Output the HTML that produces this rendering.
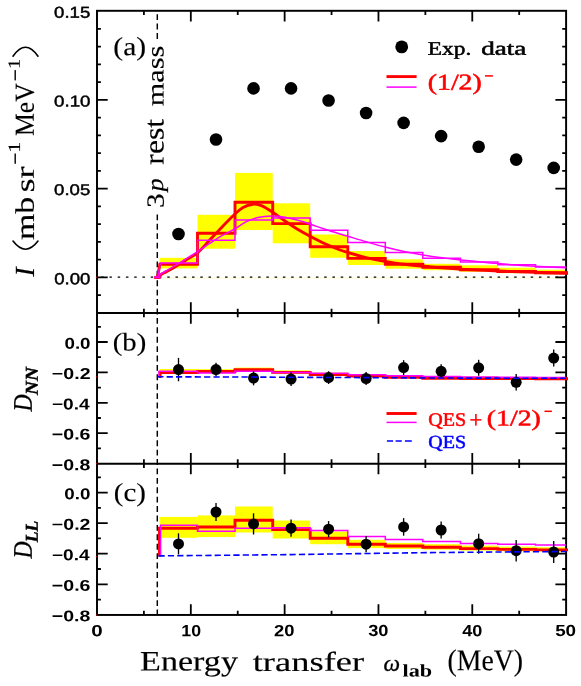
<!DOCTYPE html>
<html>
<head>
<meta charset="utf-8">
<title>Energy transfer spectra</title>
<style>
html,body{margin:0;padding:0;background:#ffffff;}
body{width:581px;height:686px;overflow:hidden;font-family:"Liberation Sans",sans-serif;}
svg{display:block;will-change:transform;}
text{white-space:pre;text-rendering:geometricPrecision;}
</style>
</head>
<body>
<svg width="581" height="686" viewBox="0 0 581 686">
<rect x="0" y="0" width="581" height="686" fill="#ffffff"/>
<g shape-rendering="auto">
<rect x="159.5" y="257.8" width="38" height="10.6" fill="#ffff00"/>
<rect x="197.5" y="214.8" width="37.5" height="33.9" fill="#ffff00"/>
<rect x="235" y="172.9" width="37.7" height="57.1" fill="#ffff00"/>
<rect x="272.7" y="203.3" width="37.5" height="40" fill="#ffff00"/>
<rect x="310.2" y="234.5" width="37.6" height="23.3" fill="#ffff00"/>
<rect x="347.8" y="251" width="37.5" height="14" fill="#ffff00"/>
<rect x="385.3" y="259.3" width="37.5" height="9.4" fill="#ffff00"/>
<rect x="422.8" y="263.8" width="37.6" height="6.4" fill="#ffff00"/>
<rect x="460.4" y="265.3" width="37.5" height="6.5" fill="#ffff00"/>
<rect x="497.9" y="267.7" width="37.6" height="5.5" fill="#ffff00"/>
<rect x="535.5" y="269.7" width="30.6" height="4.5" fill="#ffff00"/>
<rect x="159.5" y="369" width="38" height="4" fill="#ffff00"/>
<rect x="197.5" y="369.2" width="37.5" height="3.8" fill="#ffff00"/>
<rect x="235" y="367.6" width="37.7" height="3.9" fill="#ffff00"/>
<rect x="272.7" y="370.4" width="37.5" height="3.1" fill="#ffff00"/>
<rect x="310.2" y="372.6" width="37.6" height="2.9" fill="#ffff00"/>
<rect x="347.8" y="374.3" width="37.5" height="2.5" fill="#ffff00"/>
<rect x="385.3" y="375.4" width="37.5" height="2.6" fill="#ffff00"/>
<rect x="422.8" y="376" width="37.6" height="2.8" fill="#ffff00"/>
<rect x="460.4" y="376.6" width="37.5" height="2.4" fill="#ffff00"/>
<rect x="497.9" y="377" width="37.6" height="2.4" fill="#ffff00"/>
<rect x="535.5" y="377.2" width="30.6" height="2.4" fill="#ffff00"/>
<rect x="159.5" y="516.9" width="38" height="20.9" fill="#ffff00"/>
<rect x="197.5" y="515.4" width="37.5" height="21.7" fill="#ffff00"/>
<rect x="235" y="506.5" width="37.7" height="26" fill="#ffff00"/>
<rect x="272.7" y="520.5" width="37.5" height="18" fill="#ffff00"/>
<rect x="310.2" y="531.5" width="37.6" height="12.7" fill="#ffff00"/>
<rect x="347.8" y="539.8" width="37.5" height="8.3" fill="#ffff00"/>
<rect x="385.3" y="542.9" width="37.5" height="6" fill="#ffff00"/>
<rect x="422.8" y="544.2" width="37.6" height="5.4" fill="#ffff00"/>
<rect x="460.4" y="545.6" width="37.5" height="5" fill="#ffff00"/>
<rect x="497.9" y="546.6" width="37.6" height="4.6" fill="#ffff00"/>
<rect x="535.5" y="547.2" width="30.6" height="4.4" fill="#ffff00"/>
<line x1="160" y1="278" x2="566.1" y2="278" stroke="#ffff00" stroke-width="0.6" opacity="0.35"/>
</g>
<g stroke="#000" fill="none" stroke-linecap="butt">
<rect x="97" y="10.8" width="469.1" height="604.15" stroke-width="1.95"/>
<line x1="97" y1="312.95" x2="566.1" y2="312.95" stroke-width="1.95"/>
<line x1="97" y1="463.65" x2="566.1" y2="463.65" stroke-width="1.95"/>
<path d="M143.91,10.8L143.91,15.1 M143.91,308.65L143.91,317.25 M143.91,459.35L143.91,467.95 M143.91,610.65L143.91,614.95 M190.82,10.8L190.82,21.5 M190.82,302.25L190.82,323.65 M190.82,452.95L190.82,474.35 M190.82,604.25L190.82,614.95 M237.73,10.8L237.73,15.1 M237.73,308.65L237.73,317.25 M237.73,459.35L237.73,467.95 M237.73,610.65L237.73,614.95 M284.64,10.8L284.64,21.5 M284.64,302.25L284.64,323.65 M284.64,452.95L284.64,474.35 M284.64,604.25L284.64,614.95 M331.55,10.8L331.55,15.1 M331.55,308.65L331.55,317.25 M331.55,459.35L331.55,467.95 M331.55,610.65L331.55,614.95 M378.46,10.8L378.46,21.5 M378.46,302.25L378.46,323.65 M378.46,452.95L378.46,474.35 M378.46,604.25L378.46,614.95 M425.37,10.8L425.37,15.1 M425.37,308.65L425.37,317.25 M425.37,459.35L425.37,467.95 M425.37,610.65L425.37,614.95 M472.28,10.8L472.28,21.5 M472.28,302.25L472.28,323.65 M472.28,452.95L472.28,474.35 M472.28,604.25L472.28,614.95 M519.19,10.8L519.19,15.1 M519.19,308.65L519.19,317.25 M519.19,459.35L519.19,467.95 M519.19,610.65L519.19,614.95 M97,295.05L100.9,295.05 M562.2,295.05L566.1,295.05 M97,277.3L107.7,277.3 M555.4,277.3L566.1,277.3 M97,259.56L100.9,259.56 M562.2,259.56L566.1,259.56 M97,241.81L100.9,241.81 M562.2,241.81L566.1,241.81 M97,224.06L100.9,224.06 M562.2,224.06L566.1,224.06 M97,206.32L100.9,206.32 M562.2,206.32L566.1,206.32 M97,188.57L107.7,188.57 M555.4,188.57L566.1,188.57 M97,170.83L100.9,170.83 M562.2,170.83L566.1,170.83 M97,153.08L100.9,153.08 M562.2,153.08L566.1,153.08 M97,135.34L100.9,135.34 M562.2,135.34L566.1,135.34 M97,117.6L100.9,117.6 M562.2,117.6L566.1,117.6 M97,99.85L107.7,99.85 M555.4,99.85L566.1,99.85 M97,82.11L100.9,82.11 M562.2,82.11L566.1,82.11 M97,64.36L100.9,64.36 M562.2,64.36L566.1,64.36 M97,46.62L100.9,46.62 M562.2,46.62L566.1,46.62 M97,28.87L100.9,28.87 M562.2,28.87L566.1,28.87 M97,448.4L100.9,448.4 M562.2,448.4L566.1,448.4 M97,433.2L107.7,433.2 M555.4,433.2L566.1,433.2 M97,418L100.9,418 M562.2,418L566.1,418 M97,402.8L107.7,402.8 M555.4,402.8L566.1,402.8 M97,387.6L100.9,387.6 M562.2,387.6L566.1,387.6 M97,372.4L107.7,372.4 M555.4,372.4L566.1,372.4 M97,357.2L100.9,357.2 M562.2,357.2L566.1,357.2 M97,342L107.7,342 M555.4,342L566.1,342 M97,326.8L100.9,326.8 M562.2,326.8L566.1,326.8 M97,599.56L100.9,599.56 M562.2,599.56L566.1,599.56 M97,584.28L107.7,584.28 M555.4,584.28L566.1,584.28 M97,569L100.9,569 M562.2,569L566.1,569 M97,553.72L107.7,553.72 M555.4,553.72L566.1,553.72 M97,538.44L100.9,538.44 M562.2,538.44L566.1,538.44 M97,523.16L107.7,523.16 M555.4,523.16L566.1,523.16 M97,507.88L100.9,507.88 M562.2,507.88L566.1,507.88 M97,492.6L107.7,492.6 M555.4,492.6L566.1,492.6 M97,477.32L100.9,477.32 M562.2,477.32L566.1,477.32" stroke-width="1.8"/>
</g>
<line x1="97" y1="277.2" x2="566.1" y2="277.2" stroke="#000" stroke-width="1.3" stroke-dasharray="2.5 5.76" stroke-dashoffset="4.1"/>
<g stroke="#000" stroke-width="1.45" stroke-dasharray="5.9 3.51">
<line x1="157.3" y1="14.2" x2="157.3" y2="40"/>
<line x1="157.3" y1="214.4" x2="157.3" y2="614.95"/>
</g>
<g fill="none" stroke-linejoin="miter" stroke-linecap="butt">
<path d="M157.4,277.6 L159.9,264.2 L197.5,264.2 L197.5,233.2 L235,233.2 L235,202.3 L272.7,202.3 L272.7,223.6 L310.2,223.6 L310.2,246.7 L347.8,246.7 L347.8,258.4 L385.3,258.4 L385.3,264.2 L422.8,264.2 L422.8,267.2 L460.4,267.2 L460.4,269.8 L497.9,269.8 L497.9,271.5 L535.5,271.5 L535.5,272.8 L568,272.8" stroke="#ff0000" stroke-width="2.9"/>
<path d="M157.3,277.4 C158,276.87 160.05,275.12 161.5,274.2 C162.95,273.28 164.5,272.7 166,271.9 C167.5,271.1 168.5,270.55 170.5,269.4 C172.5,268.25 175.42,266.57 178,265 C180.58,263.43 182.75,262.02 186,260 C189.25,257.98 193.63,256.13 197.5,252.9 C201.37,249.67 205.18,244.85 209.2,240.6 C213.22,236.35 217.38,231.75 221.6,227.4 C225.82,223.05 230.93,217.82 234.5,214.5 C238.07,211.18 239.92,209.22 243,207.5 C246.08,205.78 249.83,204.48 253,204.2 C256.17,203.92 258.67,204.42 262,205.8 C265.33,207.18 269.17,209.97 273,212.5 C276.83,215.03 280.83,218.17 285,221 C289.17,223.83 293.75,226.92 298,229.5 C302.25,232.08 306,234.12 310.5,236.5 C315,238.88 320.08,241.55 325,243.8 C329.92,246.05 336.17,248.53 340,250 C343.83,251.47 343.67,251.33 348,252.6 C352.33,253.87 359.67,256.1 366,257.6 C372.33,259.1 379.67,260.5 386,261.6 C392.33,262.7 397.83,263.42 404,264.2 C410.17,264.98 416.67,265.68 423,266.3 C429.33,266.92 435.67,267.42 442,267.9 C448.33,268.38 451.67,268.68 461,269.2 C470.33,269.72 485.67,270.47 498,271 C510.33,271.53 523.33,272.03 535,272.4 C546.67,272.77 562.5,273.07 568,273.2" stroke="#ff0000" stroke-width="2.9"/>
<path d="M157.9,277.4 L160.4,262.9 L197.5,262.9 L197.5,240.3 L235,240.3 L235,220 L272.7,220 L272.7,218 L310.2,218 L310.2,230.2 L347.8,230.2 L347.8,242.6 L385.3,242.6 L385.3,252.6 L422.8,252.6 L422.8,258.3 L460.4,258.3 L460.4,261.9 L497.9,261.9 L497.9,264.8 L535.5,264.8 L535.5,267 L566.1,267" stroke="#ff00ff" stroke-width="1.5"/>
<path d="M157.3,277.3 C158,276.68 160.05,274.65 161.5,273.6 C162.95,272.55 164.5,271.87 166,271 C167.5,270.13 168.5,269.58 170.5,268.4 C172.5,267.22 175.42,265.5 178,263.9 C180.58,262.3 182.75,260.85 186,258.8 C189.25,256.75 193.63,254.12 197.5,251.6 C201.37,249.08 205.18,246.32 209.2,243.7 C213.22,241.08 217.38,238.35 221.6,235.9 C225.82,233.45 230.43,231.35 234.5,229 C238.57,226.65 242.08,223.72 246,221.8 C249.92,219.88 253.67,218.47 258,217.5 C262.33,216.53 267.5,216.05 272,216 C276.5,215.95 280.67,216.48 285,217.2 C289.33,217.92 293.75,219.13 298,220.3 C302.25,221.47 306,222.7 310.5,224.2 C315,225.7 320.08,227.67 325,229.3 C329.92,230.93 336.17,232.83 340,234 C343.83,235.17 343.67,235.02 348,236.3 C352.33,237.58 359.67,239.87 366,241.7 C372.33,243.53 379.67,245.67 386,247.3 C392.33,248.93 397.83,250.23 404,251.5 C410.17,252.77 416.67,253.87 423,254.9 C429.33,255.93 435.67,256.85 442,257.7 C448.33,258.55 451.67,259.02 461,260 C470.33,260.98 485.67,262.55 498,263.6 C510.33,264.65 523.6,265.6 535,266.3 C546.4,267 561.17,267.55 566.4,267.8" stroke="#ff00ff" stroke-width="1.5"/>
<path d="M154.2,277.5 L160.6,277.5" stroke="#ff0000" stroke-width="2.9"/>
<path d="M154.4,277.3 L160.6,277.3" stroke="#ff00ff" stroke-width="2.1"/>
<path d="M160.1,378 L160.1,372.6 L197.5,372.6 L197.5,371.5 L235,371.5 L235,369.7 L272.7,369.7 L272.7,372.4 L310.2,372.4 L310.2,374.6 L347.8,374.6 L347.8,376 L385.3,376 L385.3,377.4 L422.8,377.4 L422.8,378.2 L460.4,378.2 L460.4,378.5 L497.9,378.5 L497.9,378.6 L535.5,378.6 L535.5,378.7 L568,378.7" stroke="#ff0000" stroke-width="2.9"/>
<path d="M159,377.2 L159,371.3 L197.5,371.3 L197.5,372.9 L235,372.9 L235,371.2 L272.7,371.2 L272.7,372.6 L310.2,372.6 L310.2,373.2 L347.8,373.2 L347.8,374.7 L385.3,374.7 L385.3,375.8 L422.8,375.8 L422.8,376.4 L460.4,376.4 L460.4,376.9 L497.9,376.9 L497.9,377.2 L535.5,377.2 L535.5,377.4 L566.1,377.4" stroke="#ff00ff" stroke-width="1.5"/>
<path d="M159.5,556.6 L159.5,528.2 L197.5,528.2 L197.5,527 L235,527 L235,520.2 L272.7,520.2 L272.7,529.6 L310.2,529.6 L310.2,538.3 L347.8,538.3 L347.8,544.2 L385.3,544.2 L385.3,546 L422.8,546 L422.8,547.3 L460.4,547.3 L460.4,548.6 L497.9,548.6 L497.9,549.4 L535.5,549.4 L535.5,549.9 L568,549.9" stroke="#ff0000" stroke-width="2.9"/>
<path d="M160.6,556 L160.6,525.3 L197.5,525.3 L197.5,531.3 L235,531.3 L235,528.2 L272.7,528.2 L272.7,527.8 L310.2,527.8 L310.2,530.5 L347.8,530.5 L347.8,536.5 L385.3,536.5 L385.3,539.6 L422.8,539.6 L422.8,541.6 L460.4,541.6 L460.4,543.4 L497.9,543.4 L497.9,544.2 L535.5,544.2 L535.5,545 L566.1,545" stroke="#ff00ff" stroke-width="1.5"/>
</g>
<g fill="#000" stroke="#000" stroke-width="1.35">
<circle cx="178.5" cy="234" r="6.3" stroke="none"/>
<circle cx="216.02" cy="139.5" r="6.3" stroke="none"/>
<circle cx="253.54" cy="88.4" r="6.3" stroke="none"/>
<circle cx="291.06" cy="88.4" r="6.3" stroke="none"/>
<circle cx="328.58" cy="100.5" r="6.3" stroke="none"/>
<circle cx="366.1" cy="113" r="6.3" stroke="none"/>
<circle cx="403.62" cy="122.9" r="6.3" stroke="none"/>
<circle cx="441.14" cy="136.1" r="6.3" stroke="none"/>
<circle cx="478.66" cy="146.7" r="6.3" stroke="none"/>
<circle cx="516.18" cy="159.6" r="6.3" stroke="none"/>
<circle cx="553.7" cy="167.9" r="6.3" stroke="none"/>
<line x1="178.5" y1="357.9" x2="178.5" y2="381.3"/>
<circle cx="178.5" cy="369.6" r="5.5" stroke="none"/>
<line x1="216.02" y1="362.8" x2="216.02" y2="376.4"/>
<circle cx="216.02" cy="369.6" r="5.5" stroke="none"/>
<line x1="253.54" y1="370.9" x2="253.54" y2="385.3"/>
<circle cx="253.54" cy="378.1" r="5.5" stroke="none"/>
<line x1="291.06" y1="372.3" x2="291.06" y2="385.9"/>
<circle cx="291.06" cy="379.1" r="5.5" stroke="none"/>
<line x1="328.58" y1="371.2" x2="328.58" y2="384"/>
<circle cx="328.58" cy="377.6" r="5.5" stroke="none"/>
<line x1="366.1" y1="372.1" x2="366.1" y2="384.9"/>
<circle cx="366.1" cy="378.5" r="5.5" stroke="none"/>
<line x1="403.62" y1="360.2" x2="403.62" y2="375"/>
<circle cx="403.62" cy="367.6" r="5.5" stroke="none"/>
<line x1="441.14" y1="364.3" x2="441.14" y2="378.3"/>
<circle cx="441.14" cy="371.3" r="5.5" stroke="none"/>
<line x1="478.66" y1="359.8" x2="478.66" y2="375.8"/>
<circle cx="478.66" cy="367.8" r="5.5" stroke="none"/>
<line x1="516.18" y1="374" x2="516.18" y2="390.6"/>
<circle cx="516.18" cy="382.3" r="5.5" stroke="none"/>
<line x1="553.7" y1="349.6" x2="553.7" y2="366.6"/>
<circle cx="553.7" cy="358.1" r="5.5" stroke="none"/>
<line x1="178.5" y1="533.3" x2="178.5" y2="554.5"/>
<circle cx="178.5" cy="543.9" r="5.5" stroke="none"/>
<line x1="216.02" y1="503" x2="216.02" y2="521"/>
<circle cx="216.02" cy="512" r="5.5" stroke="none"/>
<line x1="253.54" y1="513.3" x2="253.54" y2="534.5"/>
<circle cx="253.54" cy="523.9" r="5.5" stroke="none"/>
<line x1="291.06" y1="519.6" x2="291.06" y2="536.8"/>
<circle cx="291.06" cy="528.2" r="5.5" stroke="none"/>
<line x1="328.58" y1="521.1" x2="328.58" y2="537.3"/>
<circle cx="328.58" cy="529.2" r="5.5" stroke="none"/>
<line x1="366.1" y1="536.1" x2="366.1" y2="552.3"/>
<circle cx="366.1" cy="544.2" r="5.5" stroke="none"/>
<line x1="403.62" y1="518.1" x2="403.62" y2="535.7"/>
<circle cx="403.62" cy="526.9" r="5.5" stroke="none"/>
<line x1="441.14" y1="521.5" x2="441.14" y2="538.5"/>
<circle cx="441.14" cy="530" r="5.5" stroke="none"/>
<line x1="478.66" y1="533.7" x2="478.66" y2="553.7"/>
<circle cx="478.66" cy="543.7" r="5.5" stroke="none"/>
<line x1="516.18" y1="540" x2="516.18" y2="561.4"/>
<circle cx="516.18" cy="550.7" r="5.5" stroke="none"/>
<line x1="553.7" y1="541" x2="553.7" y2="563"/>
<circle cx="553.7" cy="552" r="5.5" stroke="none"/>
<circle cx="401.7" cy="46.9" r="6.4" stroke="none"/>
</g>
<g fill="none" stroke="#0000ff" stroke-width="1.6" stroke-dasharray="6.2 3.16">
<path d="M157.3,376.8 L260,377.1 L360,377.6 L460,378.1 L566.1,378.3"/>
<path d="M158.5,555.9 L220,555.3 L290,554.6 L360,553.6 L420,552.7 L500,552 L566.4,551.5"/>
</g>
<line x1="386.5" y1="76.6" x2="416.6" y2="76.6" stroke="#ff0000" stroke-width="2.9"/>
<line x1="386.5" y1="87.1" x2="416.6" y2="87.1" stroke="#ff00ff" stroke-width="1.5"/>
<line x1="386.5" y1="413.5" x2="416.6" y2="413.5" stroke="#ff0000" stroke-width="2.9"/>
<line x1="386.5" y1="422.4" x2="416.6" y2="422.4" stroke="#ff00ff" stroke-width="1.5"/>
<path d="M386.9,441 h6.2 M395.6,441 h6.2 M404.9,441 h6.9" stroke="#0000ff" stroke-width="1.6" fill="none"/>
<rect x="95.9" y="276.6" width="1" height="1.2" fill="#ff0000" opacity="0.8"/>
<rect x="95.9" y="376.3" width="1" height="1.2" fill="#ff0000" opacity="0.8"/>
<rect x="95.9" y="463.05" width="1" height="1.2" fill="#ff0000" opacity="0.8"/>
<rect x="95.9" y="556" width="1" height="1.2" fill="#ff0000" opacity="0.8"/>
<rect x="95.9" y="614.35" width="1" height="1.2" fill="#ff0000" opacity="0.8"/>
<path d="M13,241.1 Q25.5,257.4 38,241.1" fill="none" stroke="#000" stroke-width="1.6" stroke-linecap="round"/>
<path d="M13,56.2 Q25.5,38.2 38,56.2" fill="none" stroke="#000" stroke-width="1.6" stroke-linecap="round"/>
<rect x="485" y="75.15" width="7.9" height="1.5" fill="#ff0000"/>
<rect x="544.5" y="410.55" width="7.4" height="1.5" fill="#ff0000"/>
<rect x="14.5" y="153.5" width="1.4" height="10.3" fill="#000"/>
<rect x="14.5" y="70.1" width="1.4" height="10.3" fill="#000"/>
<text id="ya0" fill="#000" style="font-family:'Liberation Sans', sans-serif;font-size:15.8px;" stroke="#000" stroke-width="0.45" textLength="36.16" lengthAdjust="spacingAndGlyphs" transform="translate(54.07,17.86) rotate(-0.05)">0.15</text>
<text id="ya1" fill="#000" style="font-family:'Liberation Sans', sans-serif;font-size:15.58px;" stroke="#000" stroke-width="0.45" textLength="36.47" lengthAdjust="spacingAndGlyphs" transform="translate(54.05,106.59) rotate(-0.05)">0.10</text>
<text id="ya2" fill="#000" style="font-family:'Liberation Sans', sans-serif;font-size:15.42px;" stroke="#000" stroke-width="0.45" textLength="36.19" lengthAdjust="spacingAndGlyphs" transform="translate(54.05,195.06) rotate(-0.05)">0.05</text>
<text id="ya3" fill="#000" style="font-family:'Liberation Sans', sans-serif;font-size:16.11px;" stroke="#000" stroke-width="0.45" textLength="36.24" lengthAdjust="spacingAndGlyphs" transform="translate(54.16,284.22) rotate(-0.05)">0.00</text>
<text id="yb0" fill="#000" style="font-family:'Liberation Sans', sans-serif;font-size:15.65px;font-weight:bold;" textLength="26.12" lengthAdjust="spacingAndGlyphs" transform="translate(64.44,348.74) rotate(-0.05)">0.0</text>
<text id="yb1" fill="#000" style="font-family:'Liberation Sans', sans-serif;font-size:15.75px;font-weight:bold;" textLength="38.73" lengthAdjust="spacingAndGlyphs" transform="translate(51.81,379.03) rotate(-0.05)">−0.2</text>
<text id="yb2" fill="#000" style="font-family:'Liberation Sans', sans-serif;font-size:15.77px;font-weight:bold;" textLength="37.85" lengthAdjust="spacingAndGlyphs" transform="translate(51.91,409.46) rotate(-0.05)">−0.4</text>
<text id="yb3" fill="#000" style="font-family:'Liberation Sans', sans-serif;font-size:15.51px;font-weight:bold;" textLength="38.66" lengthAdjust="spacingAndGlyphs" transform="translate(51.82,439.6) rotate(-0.05)">−0.6</text>
<text id="yb4" fill="#000" style="font-family:'Liberation Sans', sans-serif;font-size:15.67px;font-weight:bold;" textLength="38.61" lengthAdjust="spacingAndGlyphs" transform="translate(51.83,470.35) rotate(-0.05)">−0.8</text>
<text id="yc0" fill="#000" style="font-family:'Liberation Sans', sans-serif;font-size:15.67px;font-weight:bold;" textLength="26.16" lengthAdjust="spacingAndGlyphs" transform="translate(64.33,499.25) rotate(-0.05)">0.0</text>
<text id="yc1" fill="#000" style="font-family:'Liberation Sans', sans-serif;font-size:15.76px;font-weight:bold;" textLength="38.55" lengthAdjust="spacingAndGlyphs" transform="translate(51.87,529.86) rotate(-0.05)">−0.2</text>
<text id="yc2" fill="#000" style="font-family:'Liberation Sans', sans-serif;font-size:15.77px;font-weight:bold;" textLength="37.85" lengthAdjust="spacingAndGlyphs" transform="translate(51.91,560.38) rotate(-0.05)">−0.4</text>
<text id="yc3" fill="#000" style="font-family:'Liberation Sans', sans-serif;font-size:15.51px;font-weight:bold;" textLength="38.66" lengthAdjust="spacingAndGlyphs" transform="translate(51.82,590.78) rotate(-0.05)">−0.6</text>
<text id="yc4" fill="#000" style="font-family:'Liberation Sans', sans-serif;font-size:15.35px;font-weight:bold;" textLength="38.58" lengthAdjust="spacingAndGlyphs" transform="translate(51.82,621.34) rotate(-0.05)">−0.8</text>
<text id="x0" fill="#000" style="font-family:'Liberation Sans', sans-serif;font-size:16.21px;font-weight:bold;" textLength="11.48" lengthAdjust="spacingAndGlyphs" transform="translate(91.28,636.15) rotate(-0.05)">0</text>
<text id="x10" fill="#000" style="font-family:'Liberation Sans', sans-serif;font-size:16.18px;font-weight:bold;" textLength="19.77" lengthAdjust="spacingAndGlyphs" transform="translate(181.37,636.23) rotate(-0.05)">10</text>
<text id="x20" fill="#000" style="font-family:'Liberation Sans', sans-serif;font-size:16.26px;font-weight:bold;" textLength="20.42" lengthAdjust="spacingAndGlyphs" transform="translate(274.1,636.13) rotate(-0.05)">20</text>
<text id="x30" fill="#000" style="font-family:'Liberation Sans', sans-serif;font-size:16.04px;font-weight:bold;" textLength="20.34" lengthAdjust="spacingAndGlyphs" transform="translate(368.17,636.12) rotate(-0.05)">30</text>
<text id="x40" fill="#000" style="font-family:'Liberation Sans', sans-serif;font-size:16.18px;font-weight:bold;" textLength="20.18" lengthAdjust="spacingAndGlyphs" transform="translate(462.17,636.22) rotate(-0.05)">40</text>
<text id="x50" fill="#000" style="font-family:'Liberation Sans', sans-serif;font-size:16.04px;font-weight:bold;" textLength="21" lengthAdjust="spacingAndGlyphs" transform="translate(555.13,636.09) rotate(-0.05)">50</text>
<text id="pa" fill="#000" style="font-family:'Liberation Serif', serif;font-size:26.11px;" stroke="#000" stroke-width="0.15" textLength="32.81" lengthAdjust="spacingAndGlyphs" transform="translate(113.36,55.14) rotate(-0.05)">(a)</text>
<text id="pb" fill="#000" style="font-family:'Liberation Serif', serif;font-size:25.36px;" stroke="#000" stroke-width="0.15" textLength="33.48" lengthAdjust="spacingAndGlyphs" transform="translate(112.73,350.59) rotate(-0.05)">(b)</text>
<text id="pc" fill="#000" style="font-family:'Liberation Serif', serif;font-size:26.03px;" stroke="#000" stroke-width="0.15" textLength="32.18" lengthAdjust="spacingAndGlyphs" transform="translate(113.82,501.03) rotate(-0.05)">(c)</text>
<text id="exp" fill="#000" style="font-family:'Liberation Serif', serif;font-size:19.24px;" stroke="#000" stroke-width="0.5" textLength="43.41" lengthAdjust="spacingAndGlyphs" transform="translate(427.82,54.7) rotate(-0.05)">Exp.</text>
<text id="data" fill="#000" style="font-family:'Liberation Serif', serif;font-size:19.12px;" stroke="#000" stroke-width="0.5" textLength="45.14" lengthAdjust="spacingAndGlyphs" transform="translate(481.25,54.85) rotate(-0.05)">data</text>
<text id="half1" fill="#ff0000" style="font-family:'Liberation Serif', serif;font-size:22.7px;" stroke="#ff0000" stroke-width="0.5" textLength="54.05" lengthAdjust="spacingAndGlyphs" transform="translate(427.73,89.65) rotate(-0.05)">(1/2)</text>
<text id="qes1" fill="#ff0000" style="font-family:'Liberation Serif', serif;font-size:19.01px;" stroke="#ff0000" stroke-width="0.5" textLength="37.88" lengthAdjust="spacingAndGlyphs" transform="translate(428.35,425.67) rotate(-0.05)">QES</text>
<text id="plus" fill="#ff0000" style="font-family:'Liberation Serif', serif;font-size:23.36px;" stroke="#ff0000" stroke-width="0.5" textLength="12.71" lengthAdjust="spacingAndGlyphs" transform="translate(469.49,427.59) rotate(-0.05)">+</text>
<text id="half2" fill="#ff0000" style="font-family:'Liberation Serif', serif;font-size:22.5px;" stroke="#ff0000" stroke-width="0.5" textLength="54.17" lengthAdjust="spacingAndGlyphs" transform="translate(486.71,425.54) rotate(-0.05)">(1/2)</text>
<text id="qes2" fill="#0000ff" style="font-family:'Liberation Serif', serif;font-size:18.32px;" stroke="#0000ff" stroke-width="0.5" textLength="37.83" lengthAdjust="spacingAndGlyphs" transform="translate(428.33,448.02) rotate(-0.05)">QES</text>
<text id="mass" fill="#000" style="font-family:'Liberation Serif', serif;font-size:24.34px;" stroke="#000" stroke-width="0.15" textLength="60.48" lengthAdjust="spacingAndGlyphs" transform="translate(163.53,106.29) rotate(-90.05)">mass</text>
<text id="rest" fill="#000" style="font-family:'Liberation Serif', serif;font-size:28.23px;" stroke="#000" stroke-width="0.15" textLength="45.8" lengthAdjust="spacingAndGlyphs" transform="translate(163.54,164.66) rotate(-90.05)">rest</text>
<text id="p" fill="#000" style="font-family:'Liberation Serif', serif;font-size:23.7px;font-style:italic;" stroke="#000" stroke-width="0.15" textLength="12.88" lengthAdjust="spacingAndGlyphs" transform="translate(162.99,191.31) rotate(-90.05)">p</text>
<text id="three" fill="#000" style="font-family:'Liberation Serif', serif;font-size:24.82px;" stroke="#000" stroke-width="0.15" textLength="14.58" lengthAdjust="spacingAndGlyphs" transform="translate(163.73,208.09) rotate(-90.05)">3</text>
<text id="yI" fill="#000" style="font-family:'Liberation Serif', serif;font-size:27.6px;font-style:italic;" stroke="#000" stroke-width="0.15" textLength="9.54" lengthAdjust="spacingAndGlyphs" transform="translate(34.03,276.83) rotate(-90.05)">I</text>
<text id="ymb" fill="#000" style="font-family:'Liberation Serif', serif;font-size:26.66px;" stroke="#000" stroke-width="0.15" textLength="43.38" lengthAdjust="spacingAndGlyphs" transform="translate(33.88,240.11) rotate(-90.05)">mb</text>
<text id="ysr" fill="#000" style="font-family:'Liberation Serif', serif;font-size:26.55px;" stroke="#000" stroke-width="0.15" textLength="26.13" lengthAdjust="spacingAndGlyphs" transform="translate(33.88,192.57) rotate(-90.05)">sr</text>
<text id="ys1" fill="#000" style="font-family:'Liberation Serif', serif;font-size:17.24px;" stroke="#000" stroke-width="0.15" textLength="10.99" lengthAdjust="spacingAndGlyphs" transform="translate(20.03,152.71) rotate(-90.05)">1</text>
<text id="yMeV" fill="#000" style="font-family:'Liberation Serif', serif;font-size:27.47px;" stroke="#000" stroke-width="0.15" textLength="52.68" lengthAdjust="spacingAndGlyphs" transform="translate(33.87,135.95) rotate(-90.05)">MeV</text>
<text id="ys2" fill="#000" style="font-family:'Liberation Serif', serif;font-size:17.06px;" stroke="#000" stroke-width="0.15" textLength="10.14" lengthAdjust="spacingAndGlyphs" transform="translate(19.87,68.96) rotate(-90.05)">1</text>
<text id="D1" fill="#000" style="font-family:'Liberation Serif', serif;font-size:26.87px;font-style:italic;" stroke="#000" stroke-width="0.3" textLength="17.16" lengthAdjust="spacingAndGlyphs" transform="translate(31.71,411.48) rotate(-90.05)">D</text>
<text id="NN" fill="#000" style="font-family:'Liberation Serif', serif;font-size:18.1px;font-weight:bold;font-style:italic;" stroke="#000" stroke-width="0.4" textLength="27.9" lengthAdjust="spacingAndGlyphs" transform="translate(37.7,394.89) rotate(-90.05)">NN</text>
<text id="D2" fill="#000" style="font-family:'Liberation Serif', serif;font-size:26.87px;font-style:italic;" stroke="#000" stroke-width="0.3" textLength="17.16" lengthAdjust="spacingAndGlyphs" transform="translate(31.71,558.48) rotate(-90.05)">D</text>
<text id="LL" fill="#000" style="font-family:'Liberation Serif', serif;font-size:18.13px;font-weight:bold;font-style:italic;" stroke="#000" stroke-width="0.4" textLength="21.38" lengthAdjust="spacingAndGlyphs" transform="translate(37.75,542.19) rotate(-90.05)">LL</text>
<text id="energy" fill="#000" style="font-family:'Liberation Serif', serif;font-size:28.13px;" stroke="#000" stroke-width="0.15" textLength="97.83" lengthAdjust="spacingAndGlyphs" transform="translate(140.12,670.6) rotate(-0.05)">Energy</text>
<text id="transfer" fill="#000" style="font-family:'Liberation Serif', serif;font-size:27.21px;" stroke="#000" stroke-width="0.15" textLength="111.49" lengthAdjust="spacingAndGlyphs" transform="translate(252.73,670.91) rotate(-0.05)">transfer</text>
<text id="omega" fill="#000" style="font-family:'Liberation Serif', serif;font-size:23.27px;font-style:italic;" stroke="#000" stroke-width="0.35" textLength="16.56" lengthAdjust="spacingAndGlyphs" transform="translate(383.46,670.77) rotate(-0.05)">ω</text>
<text id="lab" fill="#000" style="font-family:'Liberation Serif', serif;font-size:17.7px;font-weight:bold;" textLength="29.66" lengthAdjust="spacingAndGlyphs" transform="translate(402.5,676.41) rotate(-0.05)">lab</text>
<text id="mev" fill="#000" style="font-family:'Liberation Serif', serif;font-size:30.2px;" stroke="#000" stroke-width="0.15" textLength="75.58" lengthAdjust="spacingAndGlyphs" transform="translate(447.51,670.3) rotate(-0.05)">(MeV)</text>
</svg>
</body>
</html>
